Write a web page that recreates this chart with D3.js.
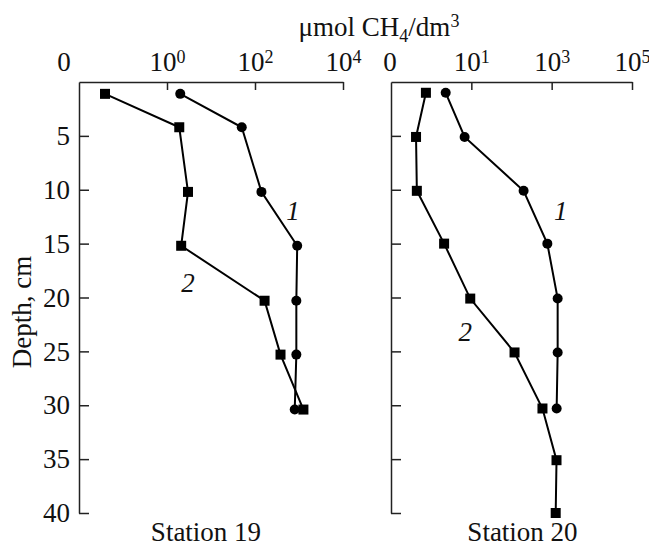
<!DOCTYPE html>
<html>
<head>
<meta charset="utf-8">
<script src="https://cdn.jsdelivr.net/npm/d3@7"></script>
<style>
  body { margin: 0; background: #fff; }
  svg text { font-family: "Liberation Serif", "Times New Roman", serif; fill: #111; }
</style>
</head>
<body>
<div id="chart"></div>
<script>
// data (depth in cm, methane in umol/dm3)
const depth19 = [1.1, 4.2, 10.2, 15.2, 20.3, 25.3, 30.4];
const st19Curve1 = [2, 50, 140, 910, 870, 870, 800];
const st19Curve2 = [0.039, 1.9, 3.0, 2.1, 165, 380, 1260];

const depth20a = [1.0, 5.1, 10.1, 15.0, 20.1, 25.1, 30.3];
const st20Curve1 = [2.3, 6.8, 200, 780, 1410, 1410, 1330];
const depth20b = [1.0, 5.1, 10.1, 15.0, 20.1, 25.1, 30.3, 35.1, 40];
const st20Curve2 = [0.74, 0.42, 0.44, 2.1, 9.4, 119, 590, 1320, 1260];

const depthTicks = [5, 10, 15, 20, 25, 30, 35, 40];
const ticks19 = [1, 100, 10000];
const ticks20 = [10, 1000, 100000];

// curve number labels: [value, depth, text]
const labels19 = [[730, 11.9, "1"], [3.0, 18.65, "2"]];
const labels20 = [[1680, 11.9, "1"], [7.1, 23.2, "2"]];

const width = 649, height = 546;
const plotTop = 82, plotBottom = 513;
const fs = 27, fsSmall = 18;

const svg = d3.select("#chart").append("svg")
  .attr("width", width)
  .attr("height", height);

const y = d3.scaleLinear().domain([0, 40]).range([plotTop, plotBottom]);

function panel(opts) {
  const x = d3.scaleLog().domain(opts.domain).range(opts.range);
  const g = svg.append("g");

  // top axis
  const ax = g.append("g")
    .attr("transform", `translate(0,${plotTop})`)
    .call(d3.axisTop(x).tickValues(opts.ticks).tickSize(-8).tickSizeOuter(0).tickFormat(""));
  ax.select(".domain").attr("stroke-width", 1.5).attr("stroke", "#222");
  ax.selectAll(".tick line").attr("stroke-width", 1.5).attr("stroke", "#222");

  // superscript labels
  ax.selectAll(".tick").append("text")
    .attr("y", -11)
    .attr("text-anchor", "middle")
    .attr("font-size", fs)
    .attr("fill", "#111")
    .each(function(d) {
      const t = d3.select(this);
      t.append("tspan").text("10");
      t.append("tspan").attr("font-size", fsSmall).attr("dy", -8).text(Math.round(Math.log10(d)));
    });

  g.append("text")
    .attr("x", opts.range[0] + opts.zeroDx)
    .attr("y", plotTop - 11)
    .attr("text-anchor", "middle")
    .attr("font-size", fs)
    .text("0");

  // left axis
  const ay = g.append("g")
    .attr("transform", `translate(${opts.range[0]},0)`)
    .call(d3.axisLeft(y).tickValues(depthTicks).tickSize(-10).tickSizeOuter(0)
      .tickFormat(opts.depthLabels ? d3.format("d") : ""));
  ay.select(".domain").attr("stroke-width", 1.5).attr("stroke", "#222");
  ay.selectAll(".tick line").attr("stroke-width", 1.5).attr("stroke", "#222");
  ay.selectAll(".tick text")
    .attr("x", -9)
    .attr("font-size", fs)
    .attr("fill", "#111");

  const line = d3.line().x(d => x(d[0])).y(d => y(d[1]));

  opts.series.forEach(s => {
    const pts = s.values.map((v, i) => [v, s.depth[i]]);
    g.append("path")
      .datum(pts)
      .attr("d", line)
      .attr("fill", "none")
      .attr("stroke", "#000")
      .attr("stroke-width", 2);
    if (s.marker === "circle") {
      g.selectAll(null).data(pts).join("circle")
        .attr("cx", d => x(d[0]))
        .attr("cy", d => y(d[1]))
        .attr("r", 5)
        .attr("fill", "#000");
    } else {
      g.selectAll(null).data(pts).join("rect")
        .attr("x", d => x(d[0]) - 5)
        .attr("y", d => y(d[1]) - 5)
        .attr("width", 10)
        .attr("height", 10)
        .attr("fill", "#000");
    }
  });

  g.selectAll(null).data(opts.labels).join("text")
    .attr("x", d => x(d[0]))
    .attr("y", d => y(d[1]))
    .attr("dy", "0.35em")
    .attr("text-anchor", "middle")
    .attr("font-size", fs)
    .attr("font-style", "italic")
    .text(d => d[2]);

  g.append("text")
    .attr("x", (opts.range[0] + opts.range[1]) / 2 + opts.nameDx)
    .attr("y", 541)
    .attr("text-anchor", "middle")
    .attr("font-size", fs)
    .text(opts.name);
}

panel({
  domain: [0.01, 10000], range: [79, 343], ticks: ticks19, zeroDx: -15,
  depthLabels: true, name: "Station 19", nameDx: -5, labels: labels19,
  series: [
    { depth: depth19, values: st19Curve1, marker: "circle" },
    { depth: depth19, values: st19Curve2, marker: "square" }
  ]
});

panel({
  domain: [0.1, 100000], range: [391, 632], ticks: ticks20, zeroDx: -1,
  depthLabels: false, name: "Station 20", nameDx: 11, labels: labels20,
  series: [
    { depth: depth20a, values: st20Curve1, marker: "circle" },
    { depth: depth20b, values: st20Curve2, marker: "square" }
  ]
});

// shared title
const title = svg.append("text")
  .attr("x", 379)
  .attr("y", 36)
  .attr("text-anchor", "middle")
  .attr("font-size", fs);
title.append("tspan").text("\u03bcmol CH");
title.append("tspan").attr("font-size", fsSmall).attr("dy", 6).text("4");
title.append("tspan").attr("dy", -6).text("/dm");
title.append("tspan").attr("font-size", fsSmall).attr("dy", -9).text("3");

svg.append("text")
  .attr("transform", "translate(31,312) rotate(-90)")
  .attr("text-anchor", "middle")
  .attr("font-size", fs)
  .text("Depth, cm");
</script>
</body>
</html>
